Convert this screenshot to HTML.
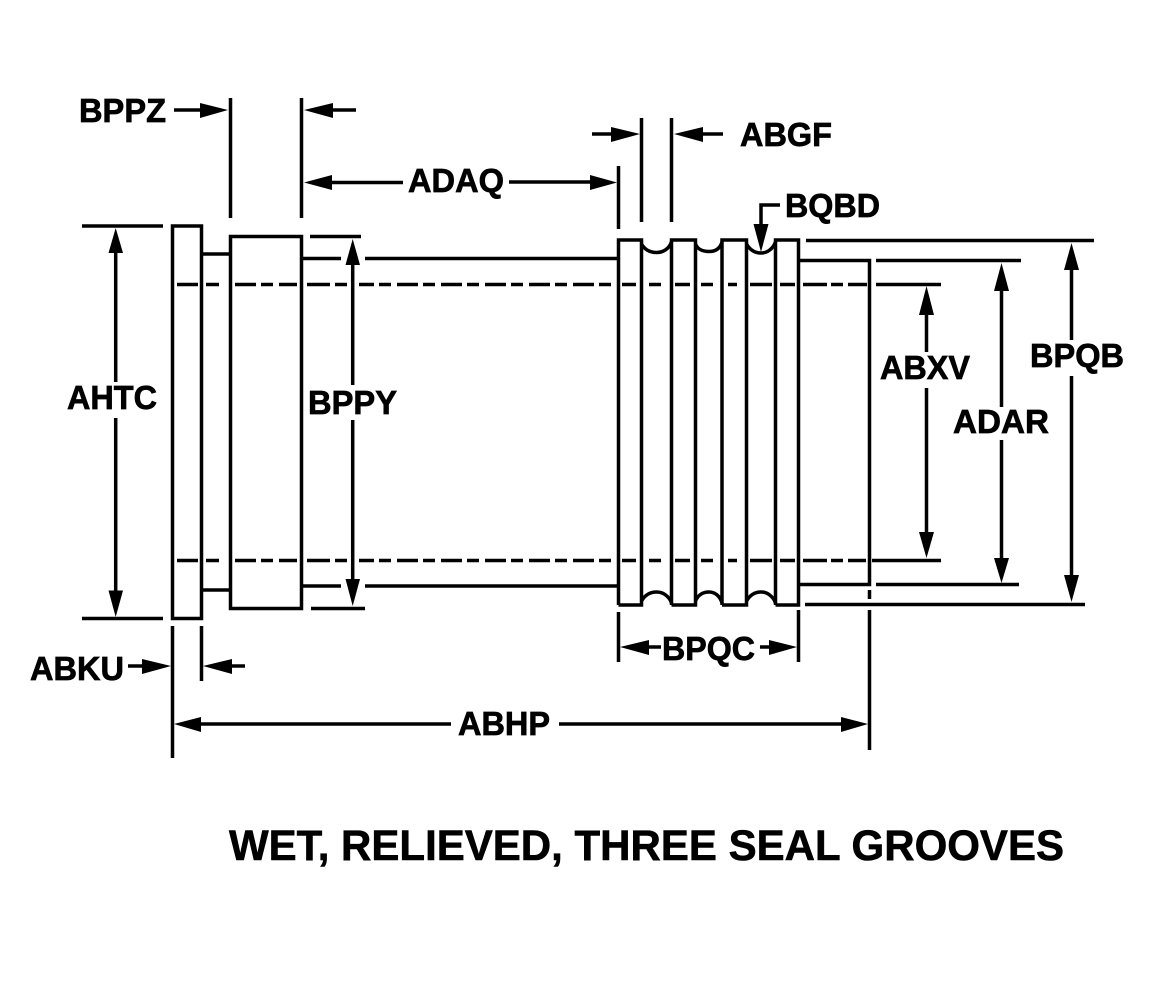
<!DOCTYPE html>
<html><head><meta charset="utf-8">
<style>html,body{margin:0;padding:0;background:#fff}svg{display:block}
text{font-family:"Liberation Sans",sans-serif;font-weight:bold;font-size:33px;fill:#000;stroke:#000;stroke-width:.7px}</style></head>
<body>
<svg width="1152" height="994" viewBox="0 0 1152 994" xmlns="http://www.w3.org/2000/svg">
<g fill="none" stroke="#000" stroke-width="3.5">
<!-- flange -->
<path d="M172.5 226H201.5V618.5H172.5Z"/>
<path d="M202 254H230M202 590H230"/>
<!-- block -->
<path d="M230.5 236.5H301.5V608.5H230.5Z"/>
<path d="M301 258.5H341M365 258.5H618M301 586H341M365 586H618"/>
<!-- rings -->
<path d="M618.5 605V240H641.5V605H618.5M671.5 605V240H695.5V605H671.5M722 605V240H746.5V605H722M775.5 605V240H798.5V605H775.5"/>
<path d="M641.5 244C645 250 650 252.500 656.500 252.500C663 252.500 669 249 671.500 242M695.500 244C698 250 703 251.500 709 251.500C715 251.500 720 249 722 242M746.500 244C750 250 755 253 761 253C767 253 773 249 775.500 242"/>
<path d="M641.5 601C645 595 650 592 656.500 592C663 592 669 596 671.500 603M695.500 601C698 595 703 592 709 592C715 592 720 596 722 603M746.500 601C750 595 755 592 761 592C767 592 773 596 775.500 603"/>
<path d="M799 260.500H869.500V584.500H799"/>
<!-- extension lines -->
<path d="M82 226H163M82 618.500H163M310 236.500H361M311 608.500H365M806 240.500H1094M805 604.500H1085M876 260.500H1021M876 584.500H1019"/>
<path d="M172.500 626V758M201.500 626V681M230.500 98V218M301.500 98V218M618.500 166V229M641.500 118V222M671.500 118V222M618.500 612V662M798.500 610V662M869.500 590V599M869.500 610V750"/>
<!-- dimension lines -->
<path d="M115.700 250V382M115.700 418V595M352.700 260V385M352.700 420V582M926.500 310V352M926.500 388V535M1001.500 285V407M1001.500 440V562M1071.500 265V340M1071.500 376V580"/>
<path d="M174 110H205M330 110H356M330 182.500H403M509 182H595M592 134H615M700 134H723M128 666H146M228 666H245M640 647H661M760 647H775M195 724H451M559 724H845"/>
<path d="M780 205H761V228"/>
<!-- dashes -->
<path d="M177 284.500H198M206 284.500H219M235 284.500H256M261 284.500H273M279 284.500H297M307 284.500H330M335 284.500H347M359 284.500H374M379 284.500H391M397 284.500H418M423 284.500H435M441 284.500H462M467 284.500H479M485 284.500H506M511 284.500H523M529 284.500H550M555 284.500H567M573 284.500H594M599 284.500H611M622 284.500H636M649 284.500H661M675 284.500H690M701 284.500H713M728 284.500H737M750 284.500H772M780 284.500H795M803 284.500H827M831 284.500H843M848 284.500H867M876 284.500H941"/>
<path d="M177 560.500H198M206 560.500H219M235 560.500H256M261 560.500H273M279 560.500H297M307 560.500H330M335 560.500H347M359 560.500H374M379 560.500H391M397 560.500H418M423 560.500H435M441 560.500H462M467 560.500H479M485 560.500H506M511 560.500H523M529 560.500H550M555 560.500H567M573 560.500H594M599 560.500H611M622 560.500H636M649 560.500H661M675 560.500H690M701 560.500H713M728 560.500H737M750 560.500H772M780 560.500H795M803 560.500H827M831 560.500H843M848 560.500H866M872 560.500H941"/>
</g>
<g fill="#000" stroke="none">
<!-- vertical arrows -->
<polygon points="115.700,228 108.500,253 123,253"/>
<polygon points="115.700,617 108.500,590.500 123,590.500"/>
<polygon points="352.700,239 345.500,265 360,265"/>
<polygon points="352.700,606 345.500,579 360,579"/>
<polygon points="926.500,286 919,315 934,315"/>
<polygon points="926.500,558 919,532 934,532"/>
<polygon points="1001.500,263 994,291 1009,291"/>
<polygon points="1001.500,583 994,558 1009,558"/>
<polygon points="1071.500,243 1064,270 1079,270"/>
<polygon points="1071.500,602 1064,575 1079,575"/>
<polygon points="761,252 753.500,224 768.500,224"/>
<!-- horizontal arrows -->
<polygon points="228,110 200,103 200,118"/>
<polygon points="304,110 333,103 333,118"/>
<polygon points="304,182.500 332,175 332,190"/>
<polygon points="617,182.500 590,175 590,190"/>
<polygon points="640,134 611,127 611,142"/>
<polygon points="674,134 703,127 703,142"/>
<polygon points="171,666 142,659 142,674"/>
<polygon points="203,666 232,659 232,674"/>
<polygon points="620,647 649,640 649,655"/>
<polygon points="797,647 769,640 769,655"/>
<polygon points="174,724 201,717 201,732"/>
<polygon points="868,724 841,717 841,732"/>
</g>
<text x="79" y="122" textLength="87" lengthAdjust="spacingAndGlyphs">BPPZ</text>
<text x="740" y="146" textLength="92" lengthAdjust="spacingAndGlyphs">ABGF</text>
<text x="408" y="192" textLength="96" lengthAdjust="spacingAndGlyphs">ADAQ</text>
<text x="785" y="217" textLength="95" lengthAdjust="spacingAndGlyphs">BQBD</text>
<text x="67" y="409" textLength="90" lengthAdjust="spacingAndGlyphs">AHTC</text>
<text x="308" y="414" textLength="89" lengthAdjust="spacingAndGlyphs">BPPY</text>
<text x="880" y="379" textLength="90" lengthAdjust="spacingAndGlyphs">ABXV</text>
<text x="953" y="433" textLength="96" lengthAdjust="spacingAndGlyphs">ADAR</text>
<text x="1030" y="367" textLength="94" lengthAdjust="spacingAndGlyphs">BPQB</text>
<text x="662" y="660" textLength="93" lengthAdjust="spacingAndGlyphs">BPQC</text>
<text x="30" y="680" textLength="94" lengthAdjust="spacingAndGlyphs">ABKU</text>
<text x="458" y="735" textLength="92" lengthAdjust="spacingAndGlyphs">ABHP</text>
<text x="229" y="860" style="font-size:43px;stroke-width:.6px" textLength="835" lengthAdjust="spacingAndGlyphs">WET, RELIEVED, THREE SEAL GROOVES</text>
</svg>
</body></html>
